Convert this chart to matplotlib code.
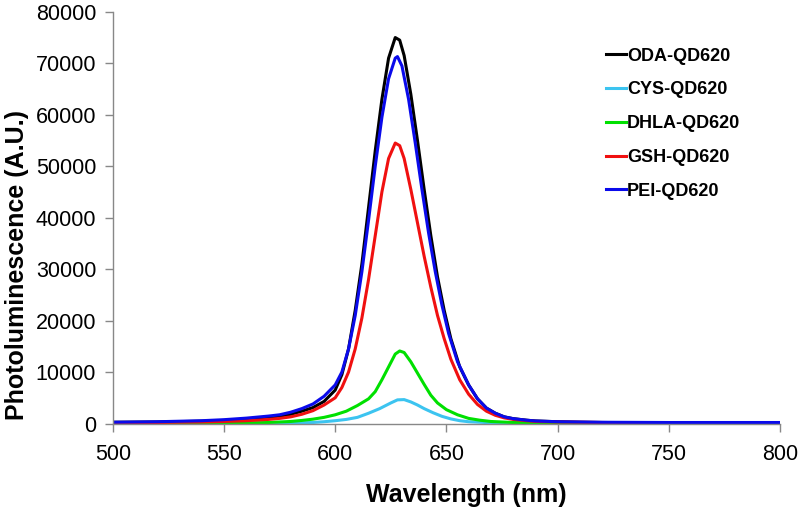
import numpy as np
import matplotlib
matplotlib.use("Agg")
import matplotlib.pyplot as plt

# wavelength (nm) / intensity (A.U.)
oda_wl = [500, 520, 540, 550, 560, 570, 575, 580, 585, 590, 595, 600, 603, 606, 609, 612, 615,
          618, 621, 624, 627, 629, 631, 634, 637, 640, 643, 646, 649, 652, 656, 660, 664, 668,
          672, 676, 680, 686, 690, 700, 710, 720, 750, 800]
oda = [250, 300, 450, 600, 850, 1200, 1450, 1800, 2400, 3100, 4300, 6500, 9500, 14500, 22000,
       31000, 42000, 53000, 63000, 71000, 75000, 74500, 71500, 64000, 55000, 45500, 36500,
       28500, 22000, 16500, 11000, 7500, 4800, 3000, 2000, 1300, 950, 650, 500, 350, 250,
       200, 150, 150]

pei_wl = [500, 520, 540, 550, 560, 570, 575, 580, 585, 590, 595, 600, 603, 606, 609, 612, 615,
          618, 621, 624, 627, 628, 630, 633, 636, 639, 642, 645, 648, 651, 655, 660, 664, 668,
          672, 676, 680, 686, 690, 700, 720, 750, 800]
pei = [250, 350, 550, 750, 1050, 1450, 1700, 2200, 2900, 3800, 5300, 7500, 10000, 14500, 21000,
       29500, 39500, 50000, 59500, 67000, 71000, 71300, 69500, 63000, 54500, 45500, 37000,
       29500, 23000, 17500, 12000, 7500, 4800, 3000, 2000, 1300, 950, 650, 500, 350, 250,
       200, 200]

gsh_wl = [500, 520, 540, 550, 560, 570, 575, 580, 585, 590, 595, 600, 603, 606, 609, 612, 615,
          618, 621, 624, 627, 629, 631, 634, 637, 640, 643, 646, 649, 652, 656, 660, 664, 668,
          672, 676, 680, 686, 690, 700, 720, 750, 800]
gsh = [150, 200, 300, 400, 550, 800, 1000, 1300, 1800, 2500, 3600, 5000, 7000, 10000, 14500,
       20500, 28000, 36500, 45000, 51500, 54500, 54000, 51500, 45500, 39000, 32500, 26500,
       21000, 16500, 12500, 8500, 5700, 3700, 2400, 1600, 1100, 800, 550, 400, 300, 200,
       150, 150]

dhla_wl = [500, 540, 560, 570, 580, 585, 590, 595, 600, 605, 610, 615, 618, 621, 624, 627, 629,
           631, 634, 637, 640, 643, 646, 650, 655, 660, 665, 670, 680, 700, 750, 800]
dhla = [50, 80, 120, 200, 400, 600, 850, 1200, 1700, 2400, 3500, 4800, 6200, 8500, 11000,
        13500, 14100, 13800, 12000, 9800, 7600, 5500, 4000, 2700, 1700, 1000, 650, 400, 200,
        100, 60, 50]

cys_wl = [500, 560, 580, 590, 595, 600, 605, 610, 615, 620, 625, 628, 631, 634, 637, 640, 644,
          648, 652, 656, 660, 670, 680, 700, 800]
cys = [20, 40, 100, 200, 350, 550, 800, 1200, 2000, 2900, 4000, 4600, 4650, 4200, 3600, 2900,
       2100, 1400, 900, 550, 350, 150, 80, 40, 20]

x_ticks = [500, 550, 600, 650, 700, 750, 800]
y_ticks = [0, 10000, 20000, 30000, 40000, 50000, 60000, 70000, 80000]

plt.rcParams["font.family"] = ["Liberation Sans", "DejaVu Sans"]

fig = plt.figure(figsize=(8, 5.14), dpi=100)
ax = fig.add_axes([0.141, 0.176, 0.834, 0.801])

lw = 2.2
ax.plot(oda_wl, oda, color="#000000", lw=lw, label="ODA-QD620")
ax.plot(cys_wl, cys, color="#3cc4f0", lw=lw, label="CYS-QD620")
ax.plot(dhla_wl, dhla, color="#00e000", lw=lw, label="DHLA-QD620")
ax.plot(gsh_wl, gsh, color="#f01010", lw=lw, label="GSH-QD620")
ax.plot(pei_wl, pei, color="#0a0aeb", lw=lw, label="PEI-QD620")

ax.set_xlim(500, 800)
ax.set_ylim(0, 80000)
ax.set_xticks(x_ticks)
ax.set_yticks(y_ticks)

for s in ["top", "right"]:
    ax.spines[s].set_visible(False)
for s in ["left", "bottom"]:
    ax.spines[s].set_color("#888888")
    ax.spines[s].set_linewidth(1.0)
ax.tick_params(direction="out", length=6, color="#888888", width=1.0, labelsize=15.5)
ax.tick_params(axis="x", pad=9)
ax.tick_params(axis="y", pad=6)

ax.set_xlabel("Wavelength (nm)", fontsize=18, fontweight="bold")
ax.set_ylabel("Photoluminescence (A.U.)", fontsize=18, fontweight="bold")
# the axis titles sit a bit off-centre in the original
ax.xaxis.set_label_coords(0.53, -0.145)
ax.yaxis.set_label_coords(-0.126, 0.385)

leg = ax.legend(loc="upper left", bbox_to_anchor=(0.746, 0.925), bbox_transform=fig.transFigure,
                frameon=False, borderpad=0, handlelength=1.1, handletextpad=0.08,
                labelspacing=0.93, prop={"weight": "bold", "size": 13})

fig.savefig("out.png", dpi=100)
